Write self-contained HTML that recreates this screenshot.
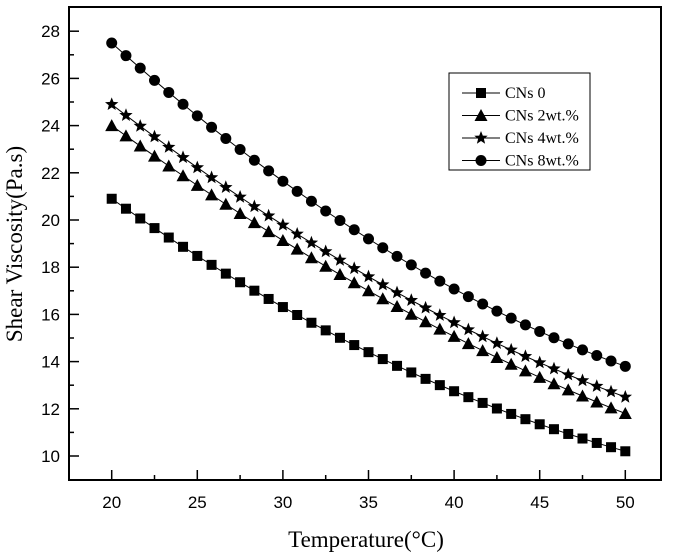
<!DOCTYPE html>
<html><head><meta charset="utf-8"><style>body{margin:0;background:#fff}svg{display:block}</style></head>
<body>
<svg id="s" width="673" height="558" xmlns="http://www.w3.org/2000/svg" font-family="Liberation Sans, sans-serif">
<rect x="69" y="7" width="592" height="473" fill="none" stroke="#000" stroke-width="2"/>
<g id="ax"></g>
<g id="data"></g>
<rect x="449" y="73" width="141" height="97" fill="#fff" stroke="#000" stroke-width="1"/>
<g id="leg" font-family="Liberation Serif, serif" font-size="16"></g>
<text x="366" y="547" text-anchor="middle" font-family="Liberation Serif, serif" font-size="23">Temperature(°C)</text>
<text transform="translate(22,244) rotate(-90)" text-anchor="middle" font-family="Liberation Serif, serif" font-size="23">Shear Viscosity(Pa.s)</text>
</svg>
<script>
const NS="http://www.w3.org/2000/svg";
function el(t,a,p,txt){const e=document.createElementNS(NS,t);for(const k in a)e.setAttribute(k,a[k]);if(txt!==undefined)e.textContent=txt;document.getElementById(p).appendChild(e);return e;}
const X=t=>111.7+(t-20)*17.12, Y=v=>456-(v-10)*23.6;
for(let v=10;v<=28;v+=2){el('line',{x1:69,x2:79,y1:Y(v),y2:Y(v),stroke:'#000','stroke-width':1.5},'ax');el('text',{x:60,y:Y(v)+6,'text-anchor':'end','font-size':17},'ax',v);}
for(let v=11;v<=27;v+=2)el('line',{x1:69,x2:74,y1:Y(v),y2:Y(v),stroke:'#000','stroke-width':1.5},'ax');
for(let t=20;t<=50;t+=5){el('line',{x1:X(t),x2:X(t),y1:480,y2:470,stroke:'#000','stroke-width':1.5},'ax');el('text',{x:X(t),y:508,'text-anchor':'middle','font-size':17},'ax',t);}
for(let t=22.5;t<50;t+=5)el('line',{x1:X(t),x2:X(t),y1:480,y2:475,stroke:'#000','stroke-width':1.5},'ax');
function quad(a,b,c){return t=>{const u=(t-20)/30;return a*(1-u)*(1-2*u)+b*4*u*(1-u)+c*u*(2*u-1);};}
const series=[[quad(20.9,14.4,10.2),'sq'],[quad(24.0,17.0,11.8),'tri'],[quad(24.9,17.6,12.5),'star'],[quad(27.5,19.2,13.8),'circ']];
function marker(k,x,y,p){
 if(k=='sq')el('rect',{x:x-5,y:y-5,width:10,height:10},p);
 else if(k=='tri')el('polygon',{points:`${x},${y-6.5} ${x-6.5},${y+5.5} ${x+6.5},${y+5.5}`},p);
 else if(k=='circ')el('circle',{cx:x,cy:y,r:5.5},p);
 else{let pts=[];for(let i=0;i<10;i++){const r=i%2?3:7,a=-Math.PI/2+i*Math.PI/5;pts.push((x+r*Math.cos(a)).toFixed(1)+','+(y+r*Math.sin(a)).toFixed(1));}el('polygon',{points:pts.join(' ')},p);}
}
series.forEach(([f,k])=>{let pts=[];for(let i=0;i<=36;i++){const t=20+i*30/36;pts.push([X(t),Y(f(t))]);}
 el('polyline',{points:pts.map(p=>p.join(',')).join(' '),fill:'none',stroke:'#000','stroke-width':1},'data');
 pts.forEach(p=>marker(k,p[0],p[1],'data'));});
const names=['CNs 0','CNs 2wt.%','CNs 4wt.%','CNs 8wt.%'];
names.forEach((n,i)=>{const y=93+i*22.5;el('line',{x1:462,x2:500,y1:y,y2:y,stroke:'#000','stroke-width':1},'leg');marker(series[i][1],481,y,'leg');el('text',{x:505,y:y+5},'leg',n);});
</script>
</body></html>
